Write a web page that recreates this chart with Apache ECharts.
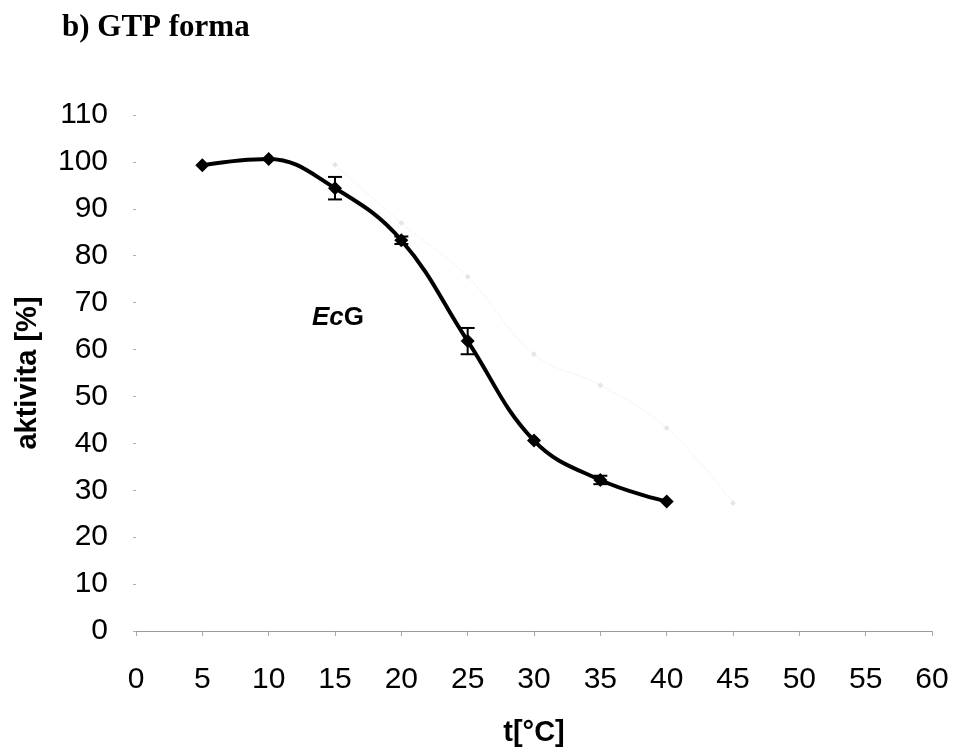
<!DOCTYPE html>
<html>
<head>
<meta charset="utf-8">
<style>
  html, body { margin: 0; padding: 0; background: #ffffff; }
  #chart { width: 957px; height: 749px; }
</style>
<script src="https://cdn.jsdelivr.net/npm/echarts@6/dist/echarts.min.js"></script>
</head>
<body>
<div id="chart"></div>
<script>
// Temperature (°C) and relative activity (%) of EcG, GTP form
const temperatures = [5, 10, 15, 20, 25, 30, 35, 40];
const activity = [99.3, 100.6, 94.4, 83.3, 61.8, 40.6, 32.2, 27.6];
// Standard deviation per point (0 = no bar drawn)
const errors = [0, 0, 2.4, 0.8, 2.8, 0, 0.9, 0];

// Faint second curve printed behind the main one
const ghostTemps = [15, 20, 25, 30, 35, 40, 45];
const ghostActivity = [99.4, 87.0, 75.5, 59.0, 52.4, 43.3, 27.3];

const xTicks = { min: 0, max: 60, step: 5 };
const yTicks = { min: 0, max: 110, step: 10 };

const mainData = temperatures.map((t, i) => [t, activity[i]]);
const ghostData = ghostTemps.map((t, i) => [t, ghostActivity[i]]);
const errData = temperatures
  .map((t, i) => [t, activity[i] - errors[i], activity[i] + errors[i]])
  .filter((d, i) => errors[i] > 0);

const chart = echarts.init(document.getElementById('chart'), null, { renderer: 'canvas' });

const sans = 'Liberation Sans, Arial, sans-serif';
const numFont = { fontFamily: sans, fontSize: 30, color: '#000' };
const nameFont = { fontFamily: sans, fontSize: 29, fontWeight: 'bold', color: '#000' };

chart.setOption({
  backgroundColor: '#ffffff',
  animation: false,
  grid: { left: 136, right: 25, top: 115, bottom: 118, containLabel: false, outerBoundsMode: 'none' },
  xAxis: {
    type: 'value',
    min: xTicks.min, max: xTicks.max, interval: xTicks.step,
    axisLine: { show: true, lineStyle: { color: '#9a9a9a', width: 1 } },
    axisTick: { show: true, length: 5, inside: false, lineStyle: { color: '#a8a8a8' } },
    axisLabel: Object.assign({ margin: 34 }, numFont),
    splitLine: { show: false },
    name: 't[°C]',
    nameLocation: 'middle',
    nameGap: 87,
    nameTextStyle: nameFont
  },
  yAxis: {
    type: 'value',
    min: yTicks.min, max: yTicks.max, interval: yTicks.step,
    axisLine: { show: false },
    axisTick: { show: true, length: 3, lineStyle: { color: '#b0b0b0' } },
    axisLabel: Object.assign({ margin: 28 }, numFont),
    splitLine: { show: false },
    name: 'aktivita [%]',
    nameLocation: 'middle',
    nameGap: 94,
    nameTextStyle: nameFont
  },
  graphic: [
    {
      type: 'text', left: 62, top: 12,
      style: { text: 'b) GTP forma', font: 'bold 31px "Liberation Serif", "Times New Roman", serif', fill: '#000' }
    },
    {
      type: 'text', left: 312, top: 305,
      style: {
        text: '{i|Ec}{b|G}',
        rich: {
          i: { fontFamily: sans, fontSize: 26, fontWeight: 'bold', fontStyle: 'italic', fill: '#000' },
          b: { fontFamily: sans, fontSize: 26, fontWeight: 'bold', fill: '#000' }
        }
      }
    }
  ],
  series: [
    {
      name: 'ghost',
      type: 'line',
      data: ghostData,
      smooth: 0.4,
      symbol: 'diamond',
      symbolSize: 6,
      lineStyle: { color: '#ececec', width: 1, type: 'dotted' },
      itemStyle: { color: '#e6e6e6' },
      z: 1
    },
    {
      name: 'EcG',
      type: 'line',
      data: mainData,
      smooth: 0.4,
      symbol: 'diamond',
      symbolSize: 14,
      lineStyle: { color: '#000', width: 4 },
      itemStyle: { color: '#000' },
      z: 3
    },
    {
      name: 'err',
      type: 'custom',
      data: errData,
      z: 4,
      renderItem: function (params, api) {
        const x = api.value(0);
        const lo = api.coord([x, api.value(1)]);
        const hi = api.coord([x, api.value(2)]);
        const w = 7;
        const style = { stroke: '#000', lineWidth: 2 };
        return {
          type: 'group',
          children: [
            { type: 'line', shape: { x1: lo[0], y1: lo[1], x2: hi[0], y2: hi[1] }, style },
            { type: 'line', shape: { x1: lo[0] - w, y1: lo[1], x2: lo[0] + w, y2: lo[1] }, style },
            { type: 'line', shape: { x1: hi[0] - w, y1: hi[1], x2: hi[0] + w, y2: hi[1] }, style }
          ]
        };
      }
    }
  ]
});
</script>
</body>
</html>
